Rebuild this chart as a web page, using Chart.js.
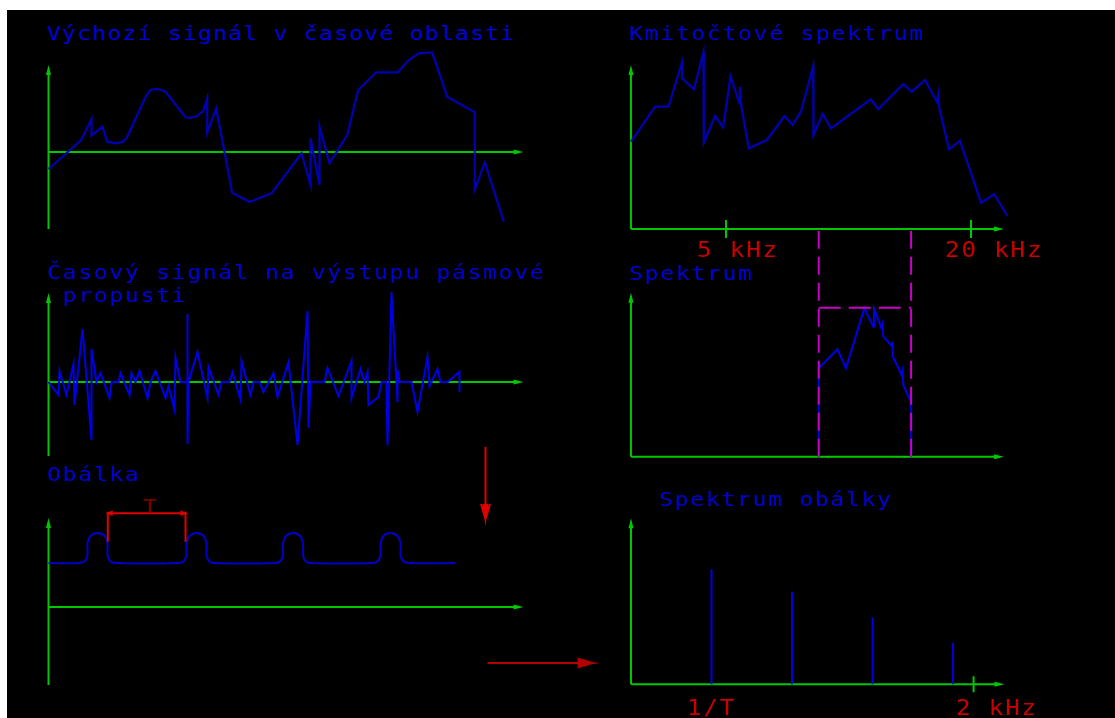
<!DOCTYPE html>
<html lang="cs">
<head>
<meta charset="UTF-8">
<title>Obálková analýza signálu</title>
<script src="https://cdn.jsdelivr.net/npm/chart.js"></script>
<style>
  html, body { margin: 0; padding: 0; background: #fff; }
  body { position: relative; width: 1115px; height: 718px; overflow: hidden; }
  #board { position: absolute; left: 7px; top: 10px; width: 1108px; height: 708px; background: #000; }
  canvas.panel { position: absolute; }
  .lbl {
    position: absolute; margin: 0; white-space: pre;
    font-family: 'DejaVu Sans Mono', monospace; font-size: 20px; line-height: 23px;
    letter-spacing: 1.5px; color: #0000dd;
    transform: scaleX(1.15); transform-origin: 0 0;
  }
  .red { color: #cc0000; font-size: 21px; letter-spacing: 1.6px; }
</style>
</head>
<body>
<div id="board"></div>

<canvas class="panel" id="cSource" width="500" height="195" style="left:40px;top:45px"></canvas>
<canvas class="panel" id="cBandpass" width="500" height="175" style="left:40px;top:285px"></canvas>
<canvas class="panel" id="cEnvelope" width="570" height="270" style="left:40px;top:440px"></canvas>
<canvas class="panel" id="cSpectrum" width="400" height="205" style="left:620px;top:40px"></canvas>
<canvas class="panel" id="cBand" width="400" height="250" style="left:620px;top:215px"></canvas>
<canvas class="panel" id="cEnvSpec" width="400" height="195" style="left:620px;top:505px"></canvas>

<div class="lbl" style="left:47px;top:22px;letter-spacing:1.1px">Výchozí signál v časové oblasti</div>
<div class="lbl" style="left:629px;top:21.6px">Kmitočtové spektrum</div>
<div class="lbl" style="left:47px;top:260.6px">Časový signál na výstupu pásmové
 propusti</div>
<div class="lbl" style="left:629px;top:261.6px">Spektrum</div>
<div class="lbl" style="left:47px;top:462.6px">Obálka</div>
<div class="lbl" style="left:659px;top:487.6px">Spektrum obálky</div>
<div class="lbl red" style="left:697px;top:238.5px">5 kHz</div>
<div class="lbl red" style="left:945px;top:238.5px">20 kHz</div>
<div class="lbl red" style="left:687px;top:696.7px">1/T</div>
<div class="lbl red" style="left:956px;top:696.7px">2 kHz</div>
<div class="lbl" style="left:143px;top:494.6px;color:#7a0000">T</div>

<script>
// --- výchozí signál (čas v dílcích, amplituda) ---
const srcTime = [0, 32.7, 43, 43, 54, 58.7, 67, 74, 78, 98, 102, 107, 112, 117, 137, 142, 148.7, 155,
  158.7, 158.7, 167.7, 183.7, 201, 223, 253, 262, 262, 271, 271, 281, 298.7, 309.7, 327.7, 349.3,
  360.3, 370.3, 383.7, 398.7, 426.3, 426.3, 436.3, 455.3];
const srcAmp = [-17, 12, 33, 16.3, 25.3, 10.3, 8.7, 10, 13.7, 57, 62, 63, 62.5, 60.3, 34.7, 34, 36, 41.3,
  53.7, 19.3, 43.7, -40.7, -50, -41.3, -1.3, -33, 13.7, -33, 25.3, -11.3, 17, 62, 79.7, 79.7,
  92, 98.7, 99.7, 55.3, 39.7, -37.3, -10.3, -69.7];

// --- signál za pásmovou propustí ---
const bpTime = [0, 10, 11, 18, 25, 26, 34, 43, 43, 48, 52, 61, 63, 70, 72, 81, 83, 87, 91, 99,
  102, 107, 117, 120, 126, 127, 132, 139, 139, 139, 140, 149, 159, 160, 170, 173, 181, 184, 192, 193,
  202, 205, 211, 215, 225, 229, 240, 249, 259, 260, 262, 276, 279, 290, 303, 303, 312, 316, 319, 320,
  330, 333, 338, 339, 343, 349, 349, 351, 363, 369, 379, 381, 389, 392, 399, 411, 411];
const bpAmp = [0, -13, 11, -13, 18, -23, 53, -58, 33, 0, 9, -16, 0, 0, 9, -13, 9, 0, 11, -16,
  0, 11, -16, -4, -28, 24, 0, 0, 68, -62, 0, 30, -16, 15, -13, 0, 0, 10, -18, 21,
  -13, 0, 0, -10, 9, -15, 20, -63, 71, -46, 0, 0, 14, -14, 21, -16, 13, 0, 10, -23,
  -15, 0, 0, -63, 90, -20, 12, 0, 0, -30, 25, -4, 13, 0, 0, 10, -10];

// --- obálka (čtyři impulzy) ---
const envTime = [0,
  31, 36.7, 39, 39, 41.9, 49, 56.1, 59, 59, 61.3, 67,
  130, 135.7, 138, 138, 140.9, 148, 155.1, 158, 158, 160.3, 166,
  226.5, 232.2, 234.5, 234.5, 237.4, 244.5, 251.6, 254.5, 254.5, 256.8, 262.5,
  324, 329.7, 332, 332, 334.9, 342, 349.1, 352, 352, 354.3, 360,
  407];
const envAmp = [44,
  44, 46.3, 52, 64, 71, 74, 71, 64, 52, 46.3, 44,
  44, 46.3, 52, 64, 71, 74, 71, 64, 52, 46.3, 44,
  44, 46.3, 52, 64, 71, 74, 71, 64, 52, 46.3, 44,
  44, 46.3, 52, 64, 71, 74, 71, 64, 52, 46.3, 44,
  44];
// perioda T mezi impulzy 1 a 2
const periodStart = 59.3, periodEnd = 137;

// --- kmitočtové spektrum (kHz, úroveň) ---
const specFreq = [2.92, 3.35, 3.61, 3.90, 3.90, 4.17, 4.40, 4.41, 4.70, 4.92, 5.13, 5.39, 5.41, 5.45,
  5.69, 6.30, 6.96, 7.29, 7.64, 8.19, 8.20, 8.64, 9.06, 11.34, 11.84, 13.64, 14.30, 15.42, 16.50,
  16.63, 16.72, 17.66, 18.79, 21.17, 22.81, 24.57];
const specLevel = [87.3, 122.3, 122.3, 166.7, 150.7, 139.7, 176.7, 86.3, 113, 101.7, 153, 126, 142.3, 123,
  80.7, 89, 113, 104, 117.3, 163, 94, 115, 100.7, 129.7, 120, 145, 137.3, 149, 127,
  134.7, 121, 79.7, 88.3, 26.3, 34.7, 13];
const specTicks = [5, 20];          // kHz
const specRange = [2.92, 24.1];     // rozsah osy kmitočtu

// --- spektrum za propustí ---
const bandFreq = [8.45, 8.45, 9.39, 9.86, 10.94, 11.51, 11.55, 12.02, 12.10, 12.18, 12.77, 12.82, 12.85,
  13.51, 13.58, 13.64, 14.25, 14.25];
const bandLevel = [0, 88.4, 107.4, 88.4, 148.4, 130, 148.4, 129.4, 133, 120, 110.7, 115, 100,
  81.7, 86, 71.7, 54, 0];
const bandEdges = [8.45, 14.25];    // kHz
const passLevel = 149;

// --- spektrum obálky (harmonické 1/T) ---
const harmFreq = [0.47, 0.94, 1.41, 1.88];   // kHz
const harmLevel = [115, 92.6, 67, 41.3];
const envSpecTicks = [2];                     // kHz

const GREEN = '#00c800';
const DARK_BLUE = '#0000b4';
const BLUE = '#0000e6';
const MAGENTA = '#c800c8';

// osy se šipkami, jak bývají ve schématech
const schemaAxes = {
  id: 'schemaAxes',
  beforeDatasetsDraw(chart, args, o) {
    const { ctx, scales: { x, y } } = chart;
    const ox = x.getPixelForValue(o.origin[0]), oy = y.getPixelForValue(o.origin[1]);
    const xt = x.getPixelForValue(o.xTip), yt = y.getPixelForValue(o.yTip);
    const yb = y.getPixelForValue(o.yBottom);
    ctx.save();
    ctx.strokeStyle = ctx.fillStyle = GREEN;
    ctx.lineWidth = 2;
    ctx.beginPath();
    ctx.moveTo(ox, yb); ctx.lineTo(ox, yt + 6);
    ctx.moveTo(ox, oy); ctx.lineTo(xt - 6, oy);
    (o.ticks || []).forEach(t => {
      const tx = x.getPixelForValue(t);
      ctx.moveTo(tx, oy - o.tickHalf); ctx.lineTo(tx, oy + o.tickHalf);
    });
    ctx.stroke();
    ctx.beginPath();
    ctx.moveTo(ox, yt); ctx.lineTo(ox - 2.5, yt + 10); ctx.lineTo(ox + 2.5, yt + 10); ctx.closePath();
    ctx.moveTo(xt, oy); ctx.lineTo(xt - 10, oy - 2.5); ctx.lineTo(xt - 10, oy + 2.5); ctx.closePath();
    ctx.fill();
    ctx.restore();
  }
};

function arrowHead(ctx, x0, y0, x1, y1, len, half) {
  const a = Math.atan2(y1 - y0, x1 - x0);
  const bx = x1 - Math.cos(a) * len, by = y1 - Math.sin(a) * len;
  const nx = -Math.sin(a), ny = Math.cos(a);
  ctx.moveTo(bx + nx * half, by + ny * half);
  ctx.lineTo(x1, y1);
  ctx.lineTo(bx - nx * half, by - ny * half);
}

// kóta periody T a přechodové šipky
const redMarks = {
  id: 'redMarks',
  afterDatasetsDraw(chart, args, o) {
    if (!o.period) return;
    const { ctx, scales: { x, y } } = chart;
    const X = v => x.getPixelForValue(v), Y = v => y.getPixelForValue(v);
    const p = o.period;
    ctx.save();
    ctx.lineWidth = 2;
    ctx.strokeStyle = '#e00000';
    ctx.beginPath();
    ctx.moveTo(X(p.from), Y(p.low)); ctx.lineTo(X(p.from), Y(p.high));
    ctx.moveTo(X(p.to), Y(p.low)); ctx.lineTo(X(p.to), Y(p.high));
    ctx.moveTo(X(p.from), Y(p.line)); ctx.lineTo(X(p.to), Y(p.line));
    ctx.stroke();
    ctx.lineWidth = 1.5;
    ctx.beginPath();
    arrowHead(ctx, X(p.to), Y(p.line), X(p.from), Y(p.line), 5, 2);
    arrowHead(ctx, X(p.from), Y(p.line), X(p.to), Y(p.line), 5, 2);
    ctx.stroke();
    o.arrows.forEach(a => {
      const x0 = X(a.from[0]), y0 = Y(a.from[1]), x1 = X(a.to[0]), y1 = Y(a.to[1]);
      ctx.strokeStyle = a.color;
      ctx.lineWidth = 2;
      ctx.beginPath();
      ctx.moveTo(x0, y0); ctx.lineTo(x1, y1);
      arrowHead(ctx, x0, y0, x1, y1, 15, 4.5);
      arrowHead(ctx, x0, y0, x1, y1, 15, 2);
      ctx.stroke();
    });
    ctx.restore();
  }
};

function series(xs, ys, color, extra) {
  return Object.assign({
    data: xs.map((v, i) => ({ x: v, y: ys[i] })),
    showLine: true, borderColor: color, borderWidth: 2,
    pointRadius: 0, tension: 0, clip: false
  }, extra || {});
}

// lineární měřítko: 1 jednotka = k px, počátek v bodě (ox, oy) stránky
function linRange(el, ox, oy, kx, ky) {
  const left = parseFloat(el.style.left), top = parseFloat(el.style.top);
  return {
    x: { type: 'linear', min: (left - ox) / kx, max: (left + el.width - ox) / kx },
    y: { type: 'linear', min: (oy - top - el.height) / ky, max: (oy - top) / ky }
  };
}

// logaritmická osa kmitočtu: 5 kHz a 20 kHz na daných pozicích
const F5_PX = 726, F20_PX = 971;
const DECADE_PX = (F20_PX - F5_PX) / Math.log10(20 / 5);
function logRange(el, oy) {
  const left = parseFloat(el.style.left), top = parseFloat(el.style.top);
  const f = px => 5 * Math.pow(10, (px - F5_PX) / DECADE_PX);
  return {
    x: { type: 'logarithmic', min: f(left), max: f(left + el.width) },
    y: { type: 'linear', min: oy - top - el.height, max: oy - top }
  };
}

function panel(id, ranges, datasets, axes, marks) {
  const el = document.getElementById(id);
  return new Chart(el, {
    type: 'scatter',
    data: { datasets },
    options: {
      responsive: false, animation: false, events: [],
      layout: { padding: 0, autoPadding: false },
      scales: {
        x: Object.assign({ display: false }, ranges.x),
        y: Object.assign({ display: false }, ranges.y)
      },
      plugins: {
        legend: { display: false }, tooltip: { enabled: false },
        schemaAxes: axes, redMarks: marks || {}
      }
    },
    plugins: [schemaAxes, redMarks]
  });
}

const el = id => document.getElementById(id);

panel('cSource', linRange(el('cSource'), 48.5, 152, 1, 1),
  [series(srcTime, srcAmp, DARK_BLUE, { borderWidth: 2.2 })],
  { origin: [0, 0], xTip: 475, yTip: 87, yBottom: -77 });

panel('cBandpass', linRange(el('cBandpass'), 48.5, 382, 1, 1),
  [series(bpTime, bpAmp, BLUE)],
  { origin: [0, 0], xTip: 475, yTip: 89, yBottom: -74 });

panel('cEnvelope', linRange(el('cEnvelope'), 48.5, 607, 1, 1),
  [series(envTime, envAmp, '#0000c8', { tension: 0.35 })],
  { origin: [0, 0], xTip: 475, yTip: 89, yBottom: -78 },
  {
    period: { from: periodStart, to: periodEnd, low: 65.3, high: 95.3, line: 93.7 },
    arrows: [
      { from: [437, 160], to: [437, 88], color: '#e00000' },
      { from: [439, -56], to: [544, -56], color: '#b40000' }
    ]
  });

panel('cSpectrum', logRange(el('cSpectrum'), 229),
  [series(specFreq, specLevel, DARK_BLUE, { borderWidth: 2.2 })],
  { origin: [specRange[0], 0], xTip: specRange[1], yTip: 164, yBottom: 0, ticks: specTicks, tickHalf: 9 });

const edgeLines = [];
bandEdges.forEach(f => edgeLines.push({ x: f, y: 0 }, { x: f, y: 233.7 }, { x: f, y: null }));
panel('cBand', logRange(el('cBand'), 456.7),
  [
    { data: edgeLines, showLine: true, borderColor: MAGENTA, borderWidth: 2, borderDash: [18, 8],
      pointRadius: 0, spanGaps: false, clip: false },
    { data: [{ x: bandEdges[0], y: passLevel }, { x: bandEdges[1], y: passLevel }], showLine: true,
      borderColor: MAGENTA, borderWidth: 2, borderDash: [22, 8], pointRadius: 0, clip: false },
    series(bandFreq, bandLevel, BLUE)
  ],
  { origin: [specRange[0], 0], xTip: specRange[1], yTip: 164, yBottom: 0 });

const harmLines = [];
harmFreq.forEach((f, i) => harmLines.push({ x: f, y: 0 }, { x: f, y: harmLevel[i] }, { x: f, y: null }));
panel('cEnvSpec', linRange(el('cEnvSpec'), 631, 684.3, 171.3, 1),
  [{ data: harmLines, showLine: true, borderColor: BLUE, borderWidth: 2, pointRadius: 0, spanGaps: false, clip: false }],
  { origin: [0, 0], xTip: 2.18, yTip: 166, yBottom: 0, ticks: envSpecTicks, tickHalf: 8 });
</script>
</body>
</html>
